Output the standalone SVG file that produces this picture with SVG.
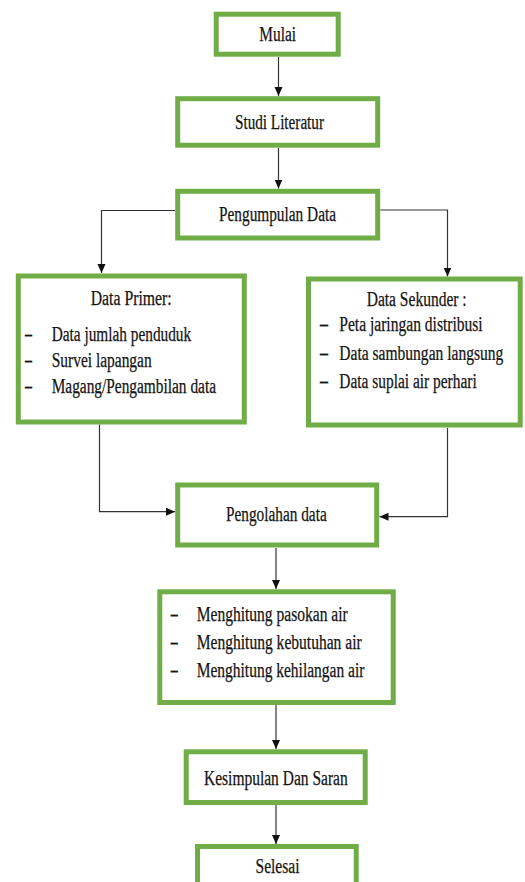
<svg xmlns="http://www.w3.org/2000/svg" width="525" height="882" viewBox="0 0 525 882">
<style>
.box{fill:#fff;stroke:#70ad47;stroke-width:5}
.t{font-family:"Liberation Serif","Times New Roman",serif;font-size:20px;fill:#141414;stroke:#141414;stroke-width:0.25}
.d{font-weight:bold}
.c{fill:none;stroke:#333;stroke-width:1.2}
</style>
<defs>
<marker id="ah" markerUnits="userSpaceOnUse" markerWidth="10" markerHeight="9" refX="9" refY="4" orient="auto">
<path d="M0,0 L9,4 L0,8 z" fill="#111"/>
</marker>
</defs>
<rect width="525" height="882" fill="#fff"/>
<g id="connectors">
<path class="c" d="M278.5,57 V96" marker-end="url(#ah)"/>
<path class="c" d="M278.5,148 V188.5" marker-end="url(#ah)"/>
<path class="c" d="M175,210.5 H101.5 V273" marker-end="url(#ah)"/>
<path class="c" d="M380.3,210 H447.5 V276.5" marker-end="url(#ah)"/>
<path class="c" d="M99.5,424.5 V511.7 H175" marker-end="url(#ah)"/>
<path class="c" d="M447.5,428 V516.7 H379.5" marker-end="url(#ah)"/>
<path class="c" d="M276,548 V589" marker-end="url(#ah)"/>
<path class="c" d="M276,705 V749" marker-end="url(#ah)"/>
<path class="c" d="M276,805 V844" marker-end="url(#ah)"/>
</g>
<g id="mulai">
<rect class="box" x="216.2" y="14.2" width="122" height="40"/>
<text class="t" x="259.3" y="41" textLength="36.7" lengthAdjust="spacingAndGlyphs">Mulai</text>
</g>
<g id="studi-literatur">
<rect class="box" x="177.7" y="98.7" width="200" height="46.5"/>
<text class="t" x="235" y="129" textLength="89" lengthAdjust="spacingAndGlyphs">Studi Literatur</text>
</g>
<g id="pengumpulan-data">
<rect class="box" x="177.7" y="191.3" width="200" height="46.7"/>
<text class="t" x="219" y="221" textLength="117" lengthAdjust="spacingAndGlyphs">Pengumpulan Data</text>
</g>
<g id="data-primer">
<rect class="box" x="18.3" y="276" width="226" height="146"/>
<text class="t" x="90.7" y="304.5" textLength="81" lengthAdjust="spacingAndGlyphs">Data Primer:</text>
<text class="t d" x="25" y="341" textLength="7" lengthAdjust="spacingAndGlyphs">–</text>
<text class="t d" x="25" y="367" textLength="7" lengthAdjust="spacingAndGlyphs">–</text>
<text class="t d" x="25" y="393" textLength="7" lengthAdjust="spacingAndGlyphs">–</text>
<text class="t" x="51.7" y="341" textLength="139.5" lengthAdjust="spacingAndGlyphs">Data jumlah penduduk</text>
<text class="t" x="51.7" y="367" textLength="100" lengthAdjust="spacingAndGlyphs">Survei lapangan</text>
<text class="t" x="51.7" y="393" textLength="164.3" lengthAdjust="spacingAndGlyphs">Magang/Pengambilan data</text>
</g>
<g id="data-sekunder">
<rect class="box" x="308.5" y="279" width="211.7" height="146"/>
<text class="t" x="366.7" y="306" textLength="100" lengthAdjust="spacingAndGlyphs">Data Sekunder :</text>
<text class="t d" x="320" y="331" textLength="8" lengthAdjust="spacingAndGlyphs">–</text>
<text class="t d" x="320" y="360" textLength="8" lengthAdjust="spacingAndGlyphs">–</text>
<text class="t d" x="320" y="388" textLength="8" lengthAdjust="spacingAndGlyphs">–</text>
<text class="t" x="339.3" y="331" textLength="143.4" lengthAdjust="spacingAndGlyphs">Peta jaringan distribusi</text>
<text class="t" transform="translate(339.3,360) scale(0.77,1)" x="0" y="0" textLength="213" lengthAdjust="spacingAndGlyphs">Data sambungan langsung</text>
<text class="t" x="339.3" y="388" textLength="137.4" lengthAdjust="spacingAndGlyphs">Data suplai air perhari</text>
</g>
<g id="pengolahan-data">
<rect class="box" x="177.7" y="485" width="199" height="60"/>
<text class="t" x="226" y="521" textLength="100.7" lengthAdjust="spacingAndGlyphs">Pengolahan data</text>
</g>
<g id="menghitung">
<rect class="box" x="159.8" y="591.8" width="233.4" height="110.7"/>
<text class="t d" x="170.7" y="621" textLength="7" lengthAdjust="spacingAndGlyphs">–</text>
<text class="t d" x="170.7" y="649" textLength="7" lengthAdjust="spacingAndGlyphs">–</text>
<text class="t d" x="170.7" y="677" textLength="7" lengthAdjust="spacingAndGlyphs">–</text>
<text class="t" x="196.7" y="621" textLength="151" lengthAdjust="spacingAndGlyphs">Menghitung pasokan air</text>
<text class="t" x="196.7" y="649" textLength="165" lengthAdjust="spacingAndGlyphs">Menghitung kebutuhan air</text>
<text class="t" x="196.7" y="677" textLength="167.7" lengthAdjust="spacingAndGlyphs">Menghitung kehilangan air</text>
</g>
<g id="kesimpulan">
<rect class="box" x="186.2" y="751.8" width="179" height="50.7"/>
<text class="t" x="204" y="785" textLength="143.7" lengthAdjust="spacingAndGlyphs">Kesimpulan Dan Saran</text>
</g>
<g id="selesai">
<rect class="box" x="197.5" y="846.5" width="158.7" height="50"/>
<text class="t" x="255.5" y="873" textLength="44" lengthAdjust="spacingAndGlyphs">Selesai</text>
</g>
</svg>
